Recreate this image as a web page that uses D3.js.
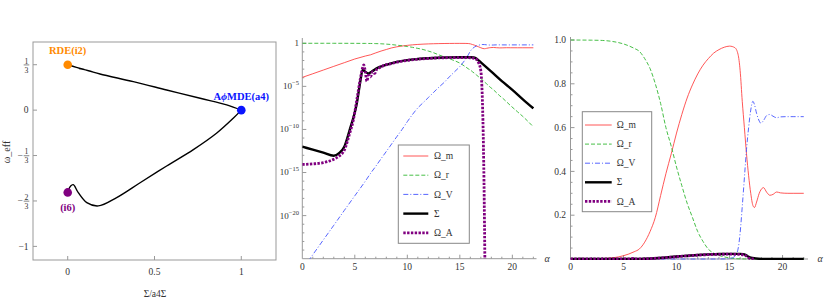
<!DOCTYPE html>
<html><head><meta charset="utf-8">
<script src="https://cdn.jsdelivr.net/npm/d3@7"></script>
<style>
body{margin:0;background:#fff}
svg{display:block}
text{font-family:"Liberation Serif","DejaVu Serif",serif;fill:#333}
</style>
</head><body>
<svg id="c" width="830" height="300"></svg>
<script>
// ---------------- DATA ----------------
// Left panel: phase-space trajectory (Σ/a4Σ , ω_eff)
const upperX = [0, 0.05, 0.1, 0.065, 0.12, 0.186, 0.378, 0.57, 0.763, 0.916, 1.0];
const upperY = [0.3333, 0.314, 0.296, 0.306, 0.289, 0.265, 0.209, 0.148, 0.087, 0.039, 0];
const lowerX = [1.0, 0.955, 0.859, 0.724, 0.57, 0.417, 0.282, 0.176, 0.11, 0.061, 0.032, 0.017, 0];
const lowerY = [0, -0.058, -0.168, -0.29, -0.41, -0.533, -0.642, -0.703, -0.679, -0.606, -0.547, -0.557, -0.604];
const fixedPoints = ["RDE(i2)", "AϕMDE(a4)", "(i6)"];
const fixedX = [0, 1, 0];
const fixedY = [1/3, 0, -0.604];
const fixedColors = ["#ff8a00", "#0a14ff", "#800080"];
const leftYTicks = [1/3, 0, -1/3, -2/3, -1];
const leftYLabels = [["", "1", "3"], ["0"], ["−", "1", "3"], ["−", "2", "3"], ["−1"]];
const leftXTicks = [0, 0.5, 1];
const leftXLabels = ["0", "0.5", "1"];

// Density parameters vs α
const alpha = [0,1,2,3,4,5,6,6.5,7,7.5,8,8.5,9,9.5,10,10.5,11,11.5,12,12.5,13,13.5,14,14.5,15,15.5,15.8,16,16.2,16.4,16.6,16.8,17,17.2,17.35,17.55,17.8,17.95,18.2,18.5,18.8,19.1,19.45,19.8,20.5,21,22];
const omegaM = [1.1e-4,2.9e-4,7.8e-4,2.1e-3,5.6e-3,0.015,0.033,0.046,0.077,0.125,0.19,0.29,0.39,0.48,0.575,0.66,0.735,0.795,0.845,0.885,0.915,0.94,0.956,0.967,0.972,0.965,0.935,0.86,0.72,0.6,0.48,0.38,0.3,0.245,0.235,0.26,0.3,0.315,0.326,0.305,0.291,0.295,0.306,0.302,0.3,0.3,0.3];
const omegaR = [0.9999,0.9997,0.9992,0.998,0.993,0.982,0.962,0.948,0.915,0.87,0.8,0.71,0.6,0.515,0.42,0.335,0.255,0.19,0.125,0.08,0.045,0.027,0.016,0.0095,0.005,0.002,0.0011,8e-4,5e-4,3.2e-4,2e-4,1.26e-4,8e-5,5e-5,3.2e-5,2e-5,1e-5,7e-6,4e-6,1.8e-6,8e-7,4e-7,1.6e-7,6.3e-8,1.1e-8,3.2e-9,2e-10];
const omegaV = [5.6e-27,2.9e-25,1.5e-23,7.6e-22,4e-20,2e-18,1e-16,8e-16,5.4e-15,4e-14,2.8e-13,2e-12,1.45e-11,1e-10,8e-10,5.6e-9,3.2e-8,1.26e-7,5e-7,2e-6,7.9e-6,2.8e-5,1.26e-4,5e-4,0.002,0.012,0.045,0.12,0.24,0.37,0.5,0.6,0.68,0.72,0.705,0.665,0.63,0.62,0.632,0.655,0.66,0.652,0.645,0.649,0.65,0.65,0.65];

const alphaSigma = [0,1,2,3,3.5,4,4.5,5,5.2,5.5,5.75,6,6.3,6.6,7,8,9,10,11,12,13,14,15,16,16.3,16.5,16.7,17,18,19,20,21,22];
const sigmaLog = [-12.0,-12.35,-12.7,-13.05,-12.75,-12.0,-10.1,-8.0,-6.9,-4.6,-3.1,-3.3,-3.5,-3.3,-2.95,-2.5,-2.15,-1.95,-1.83,-1.74,-1.68,-1.64,-1.63,-1.63,-1.65,-1.72,-1.9,-2.22,-3.3,-4.4,-5.4,-6.5,-7.55];
const sigma = sigmaLog.map(v => Math.pow(10, v));

const alphaA = [0,1,2,3,3.5,4,4.5,4.86,5.2,5.5,5.75,5.85,6.0,6.15,6.3,6.5,6.7,6.9,7.1,7.4,7.8,8.5,9,10,11,12,13,14,15,16,16.5,16.8,17.0,17.1,17.2,17.3,17.4];
const omegaALog = [-14.07,-14.0,-13.85,-13.45,-13.1,-12.4,-10.5,-8.9,-6.5,-4.3,-2.8,-2.5,-3.3,-4.4,-3.7,-3.9,-3.3,-3.5,-3.0,-2.8,-2.55,-2.35,-2.2,-1.98,-1.85,-1.76,-1.7,-1.67,-1.66,-1.68,-1.8,-2.3,-3.2,-5,-9,-16,-27];
const omegaA = omegaALog.map(v => Math.pow(10, v));

const seriesNames = ["Ω_m", "Ω_r", "Ω_V", "Σ", "Ω_A"];
const midYTicks = [0, -5, -10, -15, -20];
const xTicksAlpha = [0, 5, 10, 15, 20];
const rightYTicks = [0.2, 0.4, 0.6, 0.8, 1.0];

// ---------------- STYLES ----------------
const styles = [
  {stroke:"#ff4444", w:0.9, dash:null},
  {stroke:"#33b833", w:0.9, dash:"4,2"},
  {stroke:"#4455ff", w:0.9, dash:"5,2,1,2"},
  {stroke:"#000000", w:2.4, dash:null},
  {stroke:"#800080", w:2.8, dash:"2.4,1.4"}
];
const axisColor = "#999";

const svg = d3.select("#c");
const defs = svg.append("defs");

// ================= LEFT PANEL =================
(function(){
  const x = d3.scaleLinear().domain([-0.2, 1.2]).range([33, 276]);
  const y = d3.scaleLinear().domain([-1.1, 0.5]).range([260, 42]);
  const g = svg.append("g");
  g.append("rect").attr("x", 33).attr("y", 42).attr("width", 243).attr("height", 218)
    .attr("fill", "none").attr("stroke", axisColor).attr("stroke-width", 1);
  leftYTicks.forEach((v, i) => {
    const yy = y(v);
    g.append("line").attr("x1", 33).attr("x2", 37).attr("y1", yy).attr("y2", yy).attr("stroke", axisColor);
    const lab = leftYLabels[i];
    if (lab.length === 1) {
      g.append("text").attr("x", 28.5).attr("y", yy).attr("dy", "0.33em").attr("text-anchor", "end")
        .attr("font-size", 9.5).text(lab[0]);
    } else {
      const xc = 26.5;
      if (lab[0]) g.append("text").attr("x", xc - 3.6).attr("y", yy).attr("dy", "0.33em").attr("text-anchor", "end")
        .attr("font-size", 9.5).text(lab[0]);
      g.append("text").attr("x", xc).attr("y", yy - 1.2).attr("text-anchor", "middle").attr("font-size", 7.8).text(lab[1]);
      g.append("line").attr("x1", xc - 2.8).attr("x2", xc + 2.8).attr("y1", yy + 0.2).attr("y2", yy + 0.2)
        .attr("stroke", "#333").attr("stroke-width", 0.6);
      g.append("text").attr("x", xc).attr("y", yy + 7.9).attr("text-anchor", "middle").attr("font-size", 7.8).text(lab[2]);
    }
  });
  leftXTicks.forEach((v, i) => {
    const xx = x(v);
    g.append("line").attr("x1", xx).attr("x2", xx).attr("y1", 260).attr("y2", 256).attr("stroke", axisColor);
    g.append("text").attr("x", xx).attr("y", 275).attr("text-anchor", "middle").attr("font-size", 9.5).text(leftXLabels[i]);
  });
  g.append("text").attr("x", 155).attr("y", 297).attr("text-anchor", "middle").attr("font-size", 9.5).text("Σ/a4Σ");
  g.append("text").attr("transform", "translate(10,152) rotate(-90)").attr("text-anchor", "middle")
    .attr("font-size", 10).text("ω_eff");

  const line = d3.line().x(d => x(d[0])).y(d => y(d[1])).curve(d3.curveCatmullRom.alpha(0.5));
  g.append("path").datum(upperX.map((v, i) => [v, upperY[i]])).attr("d", line)
    .attr("fill", "none").attr("stroke", "#000").attr("stroke-width", 1.4);
  g.append("path").datum(lowerX.map((v, i) => [v, lowerY[i]])).attr("d", line)
    .attr("fill", "none").attr("stroke", "#000").attr("stroke-width", 1.4);

  fixedX.forEach((v, i) => {
    g.append("circle").attr("cx", x(v)).attr("cy", y(fixedY[i])).attr("r", 4.3).attr("fill", fixedColors[i]);
  });
  g.append("text").attr("x", x(0)).attr("y", 54).attr("text-anchor", "middle").attr("font-size", 10.5)
    .attr("font-weight", "bold").style("fill", fixedColors[0]).text(fixedPoints[0]);
  const t2 = g.append("text").attr("x", x(1)).attr("y", 100).attr("text-anchor", "middle").attr("font-size", 10.5)
    .attr("font-weight", "bold").style("fill", fixedColors[1]);
  t2.append("tspan").text("A");
  t2.append("tspan").attr("font-style", "italic").text("ϕ");
  t2.append("tspan").text("MDE(a4)");
  g.append("text").attr("x", x(0)).attr("y", 211).attr("text-anchor", "middle").attr("font-size", 10.5)
    .attr("font-weight", "bold").style("fill", fixedColors[2]).text(fixedPoints[2]);
})();

// ---------- helpers ----------
function drawSeries(g, x, y, clipId) {
  const sets = [
    [alpha, omegaM], [alpha, omegaR], [alpha, omegaV], [alphaSigma, sigma], [alphaA, omegaA]
  ];
  const line = d3.line().x(d => x(d[0])).y(d => y(d[1])).curve(d3.curveMonotoneX);
  sets.forEach((set, k) => {
    const [ax, vals] = set;
    const s = styles[k];
    g.append("path").attr("clip-path", `url(#${clipId})`)
      .datum(ax.map((a, i) => [a, vals[i]]))
      .attr("d", line).attr("fill", "none").attr("stroke", s.stroke)
      .attr("stroke-width", s.w).attr("stroke-dasharray", s.dash);
  });
}
function drawLegend(g, x0, y0, w, h, ey0, step, lx0, lx1, tx) {
  g.append("rect").attr("x", x0).attr("y", y0).attr("width", w).attr("height", h)
    .attr("fill", "#fff").attr("stroke", "#888").attr("stroke-width", 1);
  seriesNames.forEach((n, i) => {
    const yy = ey0 + i * step;
    const s = styles[i];
    g.append("line").attr("x1", lx0).attr("x2", lx1).attr("y1", yy).attr("y2", yy)
      .attr("stroke", s.stroke).attr("stroke-width", s.w).attr("stroke-dasharray", s.dash);
    g.append("text").attr("x", tx).attr("y", yy).attr("dy", "0.33em").attr("font-size", 9.5).text(n);
  });
}

// ================= MIDDLE PANEL (log) =================
(function(){
  const x = d3.scaleLinear().domain([0, 22.3]).range([302.3, 536.5]);
  const y = d3.scaleLog().domain([1e-25, Math.pow(10, 0.38)]).range([258.7, 40]);
  const g = svg.append("g");
  defs.append("clipPath").attr("id", "clipMid").append("rect")
    .attr("x", 302.3).attr("y", 36).attr("width", 240).attr("height", 258.7 - 36);
  g.append("line").attr("x1", 302.3).attr("x2", 302.3).attr("y1", 258.7).attr("y2", 38).attr("stroke", axisColor);
  g.append("line").attr("x1", 302.3).attr("x2", 536.5).attr("y1", 258.7).attr("y2", 258.7).attr("stroke", axisColor);
  for (let e = -24; e <= 0; e++) {
    const major = midYTicks.includes(e);
    g.append("line").attr("x1", 302.3).attr("x2", 302.3 + (major ? 4 : 2)).attr("y1", y(Math.pow(10, e))).attr("y2", y(Math.pow(10, e)))
      .attr("stroke", axisColor);
  }
  midYTicks.forEach(e => {
    const t = g.append("text").attr("x", 299).attr("y", y(Math.pow(10, e))).attr("dy", "0.33em")
      .attr("text-anchor", "end").attr("font-size", 9);
    if (e === 0) t.text("1");
    else { t.append("tspan").text("10"); t.append("tspan").attr("dy", -4).attr("font-size", 6.5).text("−" + (-e)); }
  });
  for (let a = 1; a <= 22; a++) {
    const major = a % 5 === 0;
    g.append("line").attr("x1", x(a)).attr("x2", x(a)).attr("y1", 258.7).attr("y2", 258.7 - (major ? 4 : 2)).attr("stroke", axisColor);
  }
  xTicksAlpha.forEach(a => {
    g.append("text").attr("x", x(a)).attr("y", 270).attr("text-anchor", "middle").attr("font-size", 9.5).text(a);
  });
  g.append("text").attr("x", 547).attr("y", 262).attr("text-anchor", "middle").attr("font-size", 10)
    .attr("font-style", "italic").text("α");
  drawSeries(g, x, y, "clipMid");
  drawLegend(g, 398.3, 145, 71, 98.3, 156, 19.2, 403.3, 428.3, 434);
})();

// ================= RIGHT PANEL (linear) =================
(function(){
  const x = d3.scaleLinear().domain([0, 22.4]).range([570.5, 808]);
  const y = d3.scaleLinear().domain([0, 1]).range([259, 40]);
  const g = svg.append("g");
  defs.append("clipPath").attr("id", "clipRight").append("rect")
    .attr("x", 570.5).attr("y", 34).attr("width", 240).attr("height", 226);
  g.append("line").attr("x1", 570.5).attr("x2", 570.5).attr("y1", 259).attr("y2", 37).attr("stroke", axisColor);
  g.append("line").attr("x1", 570.5).attr("x2", 808).attr("y1", 259).attr("y2", 259).attr("stroke", axisColor);
  for (let v = 0.05; v <= 1.001; v += 0.05) {
    const major = Math.abs(v * 5 - Math.round(v * 5)) < 1e-6;
    g.append("line").attr("x1", 570.5).attr("x2", 570.5 + (major ? 4 : 2)).attr("y1", y(v)).attr("y2", y(v)).attr("stroke", axisColor);
  }
  rightYTicks.forEach(v => {
    g.append("text").attr("x", 566).attr("y", y(v)).attr("dy", "0.33em").attr("text-anchor", "end")
      .attr("font-size", 9.5).text(v.toFixed(1));
  });
  for (let a = 1; a <= 22; a++) {
    const major = a % 5 === 0;
    g.append("line").attr("x1", x(a)).attr("x2", x(a)).attr("y1", 259).attr("y2", 259 - (major ? 4 : 2)).attr("stroke", axisColor);
  }
  xTicksAlpha.forEach(a => {
    g.append("text").attr("x", x(a)).attr("y", 270).attr("text-anchor", "middle").attr("font-size", 9.5).text(a);
  });
  g.append("text").attr("x", 820).attr("y", 262).attr("text-anchor", "middle").attr("font-size", 10)
    .attr("font-style", "italic").text("α");
  drawSeries(g, x, y, "clipRight");
  drawLegend(g, 582.3, 111.7, 69.4, 100, 125, 19.1, 585, 611.7, 616.7);
})();
</script>
</body></html>
